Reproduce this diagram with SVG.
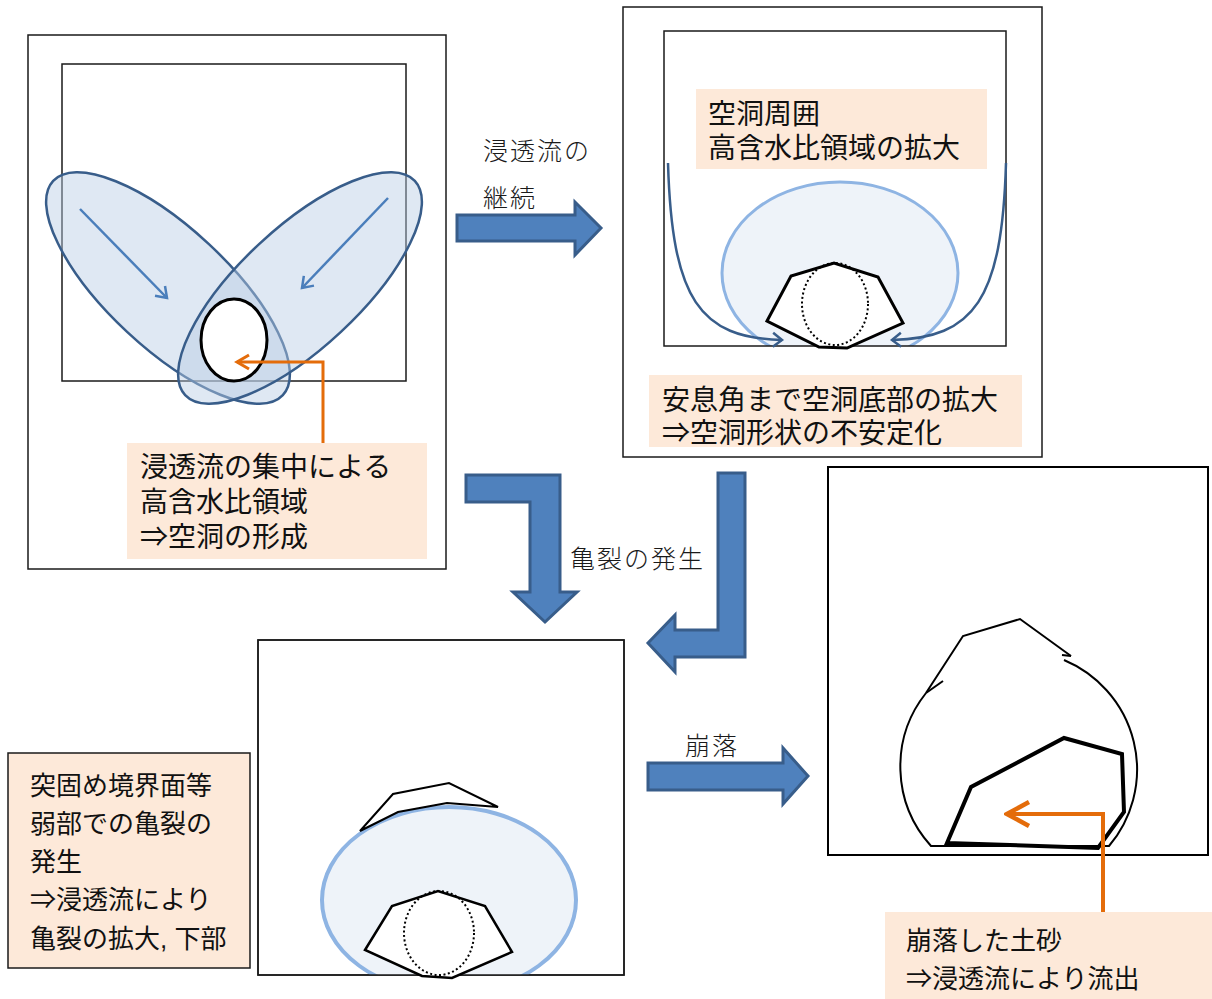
<svg xmlns="http://www.w3.org/2000/svg" width="1212" height="999" viewBox="0 0 1212 999">
  <style>
    .frame { fill: #ffffff; stroke: #1a1a1a; stroke-width: 1.5; }
    .inner { fill: none; stroke: #1a1a1a; stroke-width: 1.5; }
    .note { fill: #fde9d9; stroke: none; }
    .txt { font-family: "Liberation Sans", "Noto Sans CJK JP", sans-serif; fill: #111111; }
    .lbl { font-family: "Liberation Sans", "Noto Sans CJK JP", sans-serif; font-weight: 300; fill: #1a1a1a; font-size: 25px; letter-spacing: 2px; }
    .seep { fill: #b8cce4; fill-opacity: 0.45; stroke: #385d8a; stroke-width: 2.5; }
    .zone { fill: #eef3f9; stroke: #8eb4e3; }
    .rock { fill: #ffffff; stroke: #000000; stroke-linejoin: miter; }
    .dots { fill: none; stroke: #000000; stroke-width: 2; stroke-dasharray: 2 2.5; }
    .block { fill: #4f81bd; stroke: #385d8a; stroke-width: 3; stroke-linejoin: miter; }
    .flow { fill: none; stroke: #4a7ebb; stroke-width: 2.5; }
    .curve { fill: none; stroke: #385d8a; stroke-width: 2.5; }
    .orange { fill: none; stroke: #e46c0a; }
  </style>
  <defs>
    <marker id="headFlow" markerUnits="userSpaceOnUse" markerWidth="20" markerHeight="20" refX="16" refY="10" orient="auto">
      <path d="M6,3 L16,10 L6,17" fill="none" stroke="#4a7ebb" stroke-width="2.5"/>
    </marker>
    <marker id="headCurve" markerUnits="userSpaceOnUse" markerWidth="20" markerHeight="20" refX="16" refY="10" orient="auto">
      <path d="M7,3 L16,10 L7,17" fill="none" stroke="#385d8a" stroke-width="2.5"/>
    </marker>
    <marker id="headOrange" markerUnits="userSpaceOnUse" markerWidth="20" markerHeight="20" refX="17" refY="10" orient="auto">
      <path d="M5,3 L17,10 L5,17" fill="none" stroke="#e46c0a" stroke-width="3"/>
    </marker>
    <marker id="headOrangeBig" markerUnits="userSpaceOnUse" markerWidth="30" markerHeight="30" refX="27" refY="15" orient="auto">
      <path d="M5,3 L27,15 L5,27" fill="none" stroke="#e46c0a" stroke-width="4.5"/>
    </marker>
    <clipPath id="clipTop"><rect x="664" y="31" width="342" height="315"/></clipPath>
    <clipPath id="clipBottom"><rect x="258" y="640" width="366" height="335"/></clipPath>
  </defs>

  <rect width="1212" height="999" fill="#ffffff"/>

  <!-- Stage 1: seepage concentration -->
  <g id="stage1">
    <rect class="frame" x="28" y="35" width="418" height="534"/>
    <rect class="inner" x="62" y="64" width="344" height="317"/>
    <ellipse class="seep" cx="168" cy="288" rx="157" ry="60" transform="rotate(43 168 288)"/>
    <ellipse class="seep" cx="300" cy="288" rx="157" ry="60" transform="rotate(-43 300 288)"/>
    <line class="flow" x1="80" y1="209" x2="167" y2="298" marker-end="url(#headFlow)"/>
    <line class="flow" x1="388" y1="198" x2="302" y2="288" marker-end="url(#headFlow)"/>
    <ellipse cx="234" cy="340" rx="33" ry="41" fill="#ffffff" stroke="#000000" stroke-width="3"/>
    <polyline class="orange" stroke-width="3" points="323,444 323,362 237,362" marker-end="url(#headOrange)"/>
    <rect class="note" x="127" y="443" width="300" height="116"/>
    <text class="txt" font-size="28" x="140" y="477">浸透流の集中による</text>
    <text class="txt" font-size="28" x="140" y="512">高含水比領域</text>
    <text class="txt" font-size="28" x="140" y="547">⇒空洞の形成</text>
  </g>

  <!-- Stage 2: expansion of the wet zone -->
  <g id="stage2">
    <rect class="frame" x="623" y="7" width="419" height="450"/>
    <ellipse class="zone" stroke-width="3" cx="840" cy="273" rx="118" ry="91" clip-path="url(#clipTop)"/>
    <rect class="inner" x="664" y="31" width="342" height="315"/>
    <path class="curve" d="M668,163 C672,300 700,338 782,340" marker-end="url(#headCurve)"/>
    <path class="curve" d="M1006,163 C1002,300 974,338 892,340" marker-end="url(#headCurve)"/>
    <polygon class="rock" stroke-width="3" points="767,321 791,276 834,263 878,277 903,323 847,348 819,347"/>
    <ellipse class="dots" cx="835" cy="304" rx="33" ry="41"/>
    <rect class="note" x="696" y="89" width="291" height="80"/>
    <text class="txt" font-size="28" x="708" y="124">空洞周囲</text>
    <text class="txt" font-size="28" x="708" y="158">高含水比領域の拡大</text>
    <rect class="note" x="649" y="375" width="373" height="72"/>
    <text class="txt" font-size="28" x="662" y="410">安息角まで空洞底部の拡大</text>
    <text class="txt" font-size="28" x="662" y="443">⇒空洞形状の不安定化</text>
  </g>

  <!-- Stage 3: cracking along weak planes -->
  <g id="stage3">
    <rect class="frame" x="258" y="640" width="366" height="335"/>
    <ellipse class="zone" stroke-width="4" cx="449" cy="900" rx="127" ry="93" clip-path="url(#clipBottom)"/>
    <rect class="inner" x="258" y="640" width="366" height="335"/>
    <polygon class="rock" stroke-width="2" points="360,831 393,794 449,783 498,807 447,803 398,812"/>
    <polygon class="rock" stroke-width="2.5" points="365,950 392,906 438,891 485,906 512,952 452,978 422,976"/>
    <ellipse class="dots" cx="439" cy="933" rx="35" ry="42"/>
  </g>

  <g id="note3">
    <rect x="8" y="753" width="242" height="215" fill="#fde9d9" stroke="#1a1a1a" stroke-width="1.5"/>
    <text class="txt" font-size="26" x="30" y="795">突固め境界面等</text>
    <text class="txt" font-size="26" x="30" y="833">弱部での亀裂の</text>
    <text class="txt" font-size="26" x="30" y="871">発生</text>
    <text class="txt" font-size="26" x="30" y="909">⇒浸透流により</text>
    <text class="txt" font-size="26" x="30" y="948">亀裂の拡大, 下部</text>
  </g>

  <!-- Stage 4: collapse and outflow -->
  <g id="stage4">
    <rect x="828" y="467" width="380" height="388" fill="#ffffff" stroke="#000000" stroke-width="2"/>
    <path d="M1064,660 A120,119 0 0,1 1109,846 L931,846 A120,119 0 0,1 926,693" fill="none" stroke="#000000" stroke-width="2"/>
    <polyline points="926,693 963,636 1020,619 1071,656" fill="none" stroke="#000000" stroke-width="2"/>
    <line x1="926" y1="693" x2="943" y2="681" stroke="#000000" stroke-width="2"/>
    <line x1="1062" y1="655" x2="1071" y2="656" stroke="#000000" stroke-width="2"/>
    <polygon points="947,843 971,787 1064,738 1122,754 1124,812 1098,848" fill="none" stroke="#000000" stroke-width="4"/>
    <polyline class="orange" stroke-width="4" points="1103,912 1103,814 1007,814" marker-end="url(#headOrangeBig)"/>
    <rect class="note" x="885" y="912" width="327" height="87"/>
    <text class="txt" font-size="26" x="906" y="950">崩落した土砂</text>
    <text class="txt" font-size="26" x="906" y="988">⇒浸透流により流出</text>
  </g>

  <!-- Transition arrows between stages -->
  <g id="connectors">
    <polygon class="block" points="457,215 575,215 575,202 601,228 575,255 575,241 457,241"/>
    <polygon class="block" points="466,475 560,475 560,592 577,592 545,622 513,592 530,592 530,502 466,502"/>
    <polygon class="block" points="718,473 745,473 745,657 675,657 675,672 648,643 675,615 675,630 718,630"/>
    <polygon class="block" points="648,763 783,763 783,748 808,776 783,804 783,790 648,790"/>
    <text class="lbl" x="483" y="160">浸透流の</text>
    <text class="lbl" x="483" y="207">継続</text>
    <text class="lbl" x="570" y="568">亀裂の発生</text>
    <text class="lbl" x="685" y="755">崩落</text>
  </g>
</svg>
